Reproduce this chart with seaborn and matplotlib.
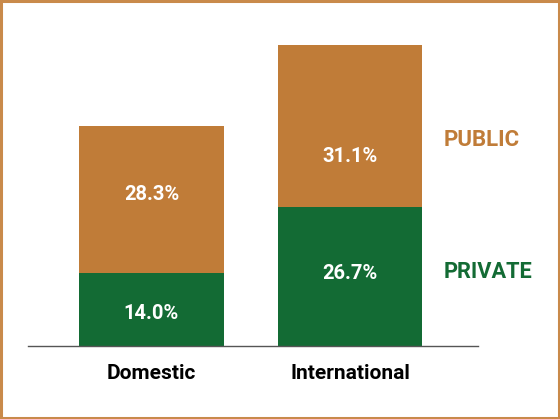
import matplotlib
matplotlib.use("Agg")
import matplotlib.pyplot as plt
from matplotlib.patches import Rectangle
import numpy as np
import pandas as pd
import seaborn as sns

# Share of enrolment by sector (%)
categories = ["Domestic", "International"]
private_share = [14.0, 26.7]
public_share = [28.3, 31.1]

ORANGE = "#C07C38"
GREEN = "#136B34"
BORDER = "#C98A4B"

sns.set_theme(style="white")
plt.rcParams["font.family"] = ["Roboto", "DejaVu Sans"]

df = pd.DataFrame({
    "group": categories,
    "private": private_share,
    "public": public_share,
})
df["total"] = df["private"] + df["public"]

fig = plt.figure(figsize=(5.6, 4.19), dpi=100)
ax = fig.add_axes([28 / 560, 73 / 419, 450 / 560, 301 / 419])

# Stacked bars: full height in orange, private share drawn over it in green
sns.barplot(data=df, x="group", y="total", color=ORANGE, width=0.73,
            saturation=1, linewidth=0, ax=ax)
sns.barplot(data=df, x="group", y="private", color=GREEN, width=0.73,
            saturation=1, linewidth=0, ax=ax)

ax.set_xlim(-0.622, 1.645)
ax.set_ylim(0, df["total"].max())

# Value labels inside each segment
priv_frac = [0.45, 0.52]
pub_frac = [0.53, 0.31]
for i, row in df.iterrows():
    ax.text(i, row["private"] * priv_frac[i], f"{row['private']:.1f}%",
            ha="center", va="center", color="white", fontsize=14.5,
            fontweight="bold")
    ax.text(i, row["private"] + row["public"] * pub_frac[i],
            f"{row['public']:.1f}%", ha="center", va="center",
            color="white", fontsize=14.5, fontweight="bold")

# Series labels to the right of the bars
ax.text(1.474, 39.5, "PUBLIC", color=ORANGE, fontsize=16,
        fontweight="bold", ha="left", va="center")
ax.text(1.474, 14.2, "PRIVATE", color=GREEN, fontsize=15.7,
        fontweight="bold", ha="left", va="center")

ax.set_xlabel("")
ax.set_ylabel("")
ax.set_yticks([])
for side in ["top", "right", "left"]:
    ax.spines[side].set_visible(False)
ax.spines["bottom"].set_color("#555555")
ax.spines["bottom"].set_linewidth(1.0)
ax.tick_params(axis="x", length=0, pad=13, labelsize=15, colors="black")
for lbl in ax.get_xticklabels():
    lbl.set_fontweight("bold")
ax.patch.set_alpha(0)

# Frame around the whole figure
fig.patches.append(Rectangle((0.002, 0.002), 0.996, 0.996,
                             transform=fig.transFigure, fill=False,
                             edgecolor=BORDER, linewidth=2.2))

fig.savefig("out.png", dpi=100)
